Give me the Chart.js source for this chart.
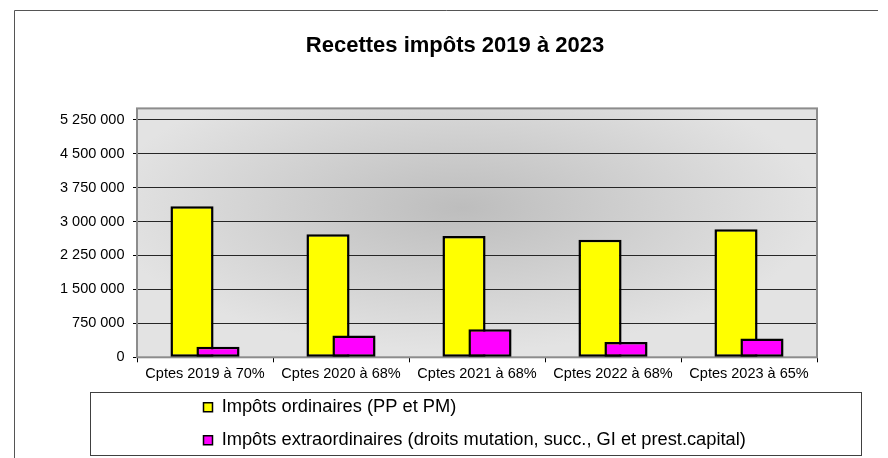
<!DOCTYPE html>
<html><head><meta charset="utf-8">
<script src="https://cdn.jsdelivr.net/npm/chart.js@4/dist/chart.umd.min.js"></script>
<style>html,body{margin:0;padding:0;background:#fff}canvas{display:block}</style>
</head><body>
<canvas id="c" width="888" height="458"></canvas>
<script>
const chartTitle = "Recettes impôts 2019 à 2023";
const categories = ["Cptes 2019 à 70%", "Cptes 2020 à 68%", "Cptes 2021 à 68%", "Cptes 2022 à 68%", "Cptes 2023 à 65%"];
const seriesNames = ["Impôts ordinaires (PP et PM)", "Impôts extraordinaires (droits mutation, succ., GI et prest.capital)"];
const impotsOrdinaires = [3340000, 2720000, 2680000, 2600000, 2830000];
const impotsExtraordinaires = [235000, 480000, 620000, 340000, 415000];
const yTickValues = [0, 750000, 1500000, 2250000, 3000000, 3750000, 4500000, 5250000];
const yTickLabels = ["0", "750 000", "1 500 000", "2 250 000", "3 000 000", "3 750 000", "4 500 000", "5 250 000"];
const yMax = 5500000;

const FONT = "'Liberation Sans', Arial, sans-serif";
Chart.defaults.font.family = FONT;
Chart.defaults.color = '#000';

const decor = {
  id: 'decor',
  beforeDraw(chart) {
    const {ctx, chartArea: a} = chart;
    ctx.save();
    ctx.fillStyle = '#fff';
    ctx.fillRect(0, 0, chart.width, chart.height);
    // outer frame
    ctx.strokeStyle = '#555';
    ctx.lineWidth = 1;
    ctx.beginPath();
    ctx.moveTo(14.5, chart.height);
    ctx.lineTo(14.5, 10.5);
    ctx.lineTo(878, 10.5);
    ctx.stroke();
    // legend frame
    ctx.strokeStyle = '#404040';
    ctx.strokeRect(90.5, 392.5, 771, 63);
    // plot background gradient
    const cx = (a.left + a.right) / 2 - 15, cy = (a.top + a.bottom) / 2 - 25;
    const rx = (a.right - a.left) / 2 * 1.05, ry = (a.bottom - a.top) / 2 * 1.15;
    const k = ry / rx;
    ctx.translate(cx, cy);
    ctx.scale(1, k);
    const g = ctx.createRadialGradient(0, 0, 0, 0, 0, rx);
    g.addColorStop(0, '#bdbdbd');
    g.addColorStop(1, '#e3e3e3');
    ctx.fillStyle = g;
    ctx.fillRect(a.left - cx, (a.top - cy) / k, a.right - a.left, (a.bottom - a.top) / k);
    ctx.restore();
  },
  beforeDatasetsDraw(chart) {
    const {ctx, chartArea: a} = chart;
    ctx.save();
    ctx.strokeStyle = '#8c8c8c';
    ctx.lineWidth = 2;
    ctx.strokeRect(a.left, a.top, a.right - a.left, a.bottom - a.top);
    ctx.restore();
  },
  afterLayout(chart) {
    const lg = chart.legend;
    const pad = lg.options.labels.padding;
    lg.left = 203.5 - pad;
    lg.right = 862;
    lg.width = lg.right - lg.left;
    lg.top = 383.4;
    lg.bottom = chart.height;
    lg.height = lg.bottom - lg.top;
    const t = chart.titleBlock;
    t.left = 30; t.right = 880; t.width = t.right - t.left;
  }
};

const secondOnTop = {
  id: 'secondOnTop',
  beforeDatasetDraw(chart, args) {
    if (args.index === 1) return false;
  },
  afterDatasetsDraw(chart) {
    const meta = chart.getDatasetMeta(1);
    if (chart.isDatasetVisible(1)) {
      chart.ctx.save();
      meta.controller.draw();
      chart.ctx.restore();
    }
  }
};

new Chart(document.getElementById('c'), {
  type: 'bar',
  data: {
    labels: categories,
    datasets: [
      { label: seriesNames[0], data: impotsOrdinaires, backgroundColor: '#ffff00', borderColor: '#000', borderWidth: 2.5, borderSkipped: false, categoryPercentage: 0.382, barPercentage: 1.66 },
      { label: seriesNames[1], data: impotsExtraordinaires, backgroundColor: '#ff00ff', borderColor: '#000', borderWidth: 2.5, borderSkipped: false, categoryPercentage: 0.382, barPercentage: 1.66 }
    ]
  },
  options: {
    responsive: false,
    animation: false,
    devicePixelRatio: 1,
    layout: { padding: { left: 0, right: 71, top: 0, bottom: 0 } },
    plugins: {
      tooltip: { enabled: false },
      title: {
        display: true, text: chartTitle, color: '#000',
        font: { family: FONT, size: 22, weight: 'bold' },
        padding: { top: 33, bottom: 49 }
      },
      legend: {
        position: 'bottom', align: 'start', fullSize: false,
        labels: {
          color: '#000', font: { family: FONT, size: 18.3 },
          boxWidth: 9, boxHeight: 9, padding: 14.7,
          generateLabels(chart) {
            const items = Chart.defaults.plugins.legend.labels.generateLabels(chart);
            items.forEach(it => { it.lineWidth = 1.5; });
            return items;
          }
        }
      }
    },
    scales: {
      x: {
        grid: { display: true, drawOnChartArea: false, drawTicks: true, tickLength: 5, color: '#000', offset: true },
        border: { display: false },
        ticks: { font: { family: FONT, size: 14.5 }, color: '#000', padding: 3, maxRotation: 0, autoSkip: false },
        afterFit(s) { s.height = 24.7; }
      },
      y: {
        min: 0, max: yMax,
        afterBuildTicks(s) { s.ticks = yTickValues.map(v => ({ value: v })); },
        ticks: {
          font: { family: FONT, size: 14.5 }, color: '#000', padding: 8.5,
          callback: (v, i) => yTickLabels[i]
        },
        grid: { color: '#262626', lineWidth: 1, tickLength: 4, tickColor: '#000' },
        border: { display: false },
        afterFit(s) { s.width = 137; }
      }
    }
  },
  plugins: [decor, secondOnTop]
});
</script>
</body></html>
